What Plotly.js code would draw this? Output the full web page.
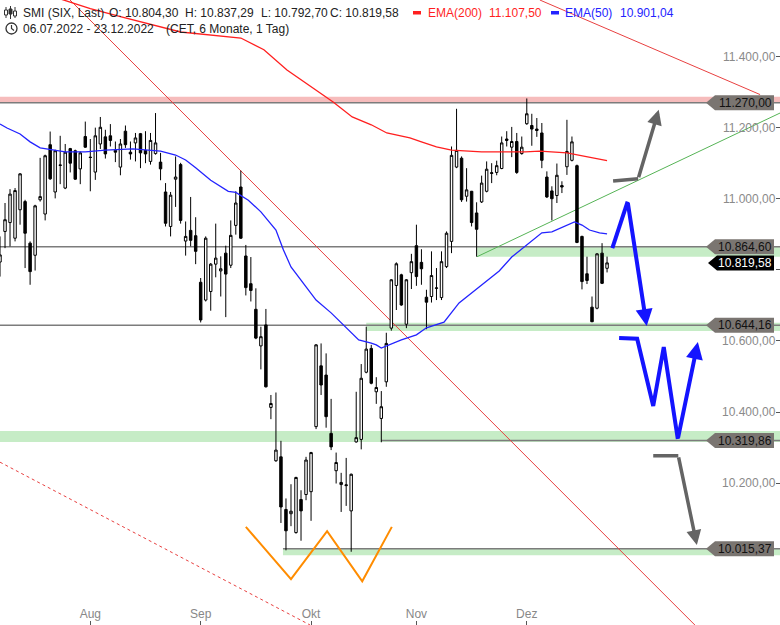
<!DOCTYPE html>
<html><head><meta charset="utf-8">
<script src="https://cdn.plot.ly/plotly-3.0.1.min.js"></script>
<style>html,body{margin:0;padding:0;background:#fff;}#chart{width:780px;height:625px;}</style>
</head><body><div id="chart"></div>
<script>
// ---- data (SMI daily, 06.07.2022 - 23.12.2022) ----
const openP = [10822,10908,10933,10889,10969,10992,10875,10841,10997,10957,11152,11019,11095,11030,11141,11135,11084,11175,11117,11075,
11154,11174,11177,11136,11089,11190,11131,11157,11183,11136,11105,11127,11103,11019,10922,11055,11096,10881,10911,10896,
10765,10715,10739,10816,10797,10847,10813,10925,11033,10839,10761,10689,10586,10645,10413,10263,10274,10126,10114,10061,
10154,10168,10176,10359,10530,10504,10340,10235,10196,10193,10122,10316,10323,10512,10579,10457,10382,10485,10636,10756,
10786,10647,10792,10868,10821,10723,10725,10748,10722,10809,10880,11089,11114,11007,11021,10960,10991,11021,11071,11074,
11085,11168,11145,11161,11127,11211,11206,11196,11185,11061,11022,11009,11037,11090,11108,11093,10894,10789,10695,10692,
10847,10804.30];
const highP = [10894,10988,11027,11030,11072,10997,10880,10983,11115,11124,11189,11138,11177,11154,11143,11138,11133,11217,11168,11200,
11230,11194,11210,11161,11168,11206,11161,11185,11185,11190,11185,11241,11129,11044,11019,11119,11101,10936,11005,10948,
10777,10894,10819,10930,10838,10868,10939,11021,11079,10870,10836,10748,10640,10690,10448,10455,10319,10157,10197,10218,
10180,10274,10288,10591,10593,10565,10437,10286,10229,10271,10227,10457,10535,10640,10589,10498,10459,10623,10774,10821,
10789,10774,10845,10927,10858,10744,10852,10805,10852,10908,11147,11253,11119,11086,11022,10990,11065,11105,11100,11107,
11175,11190,11202,11185,11175,11282,11239,11227,11213,11077,11035,11099,11049,11222,11175,11096,10896,10837,10725,10847,
10875,10837.29];
const lowP = [10781,10861,10866,10880,10927,10805,10758,10798,10992,10939,11053,11001,11041,11027,11074,11053,11041,11143,11021,11053,
11140,11113,11147,11103,11066,11143,11110,11105,11086,11100,11096,11124,11052,10922,10894,10977,10930,10840,10866,10816,
10652,10711,10685,10779,10725,10667,10805,10899,10887,10728,10711,10605,10520,10469,10380,10260,10088,10011,10079,10058,
10038,10152,10094,10352,10448,10356,10293,10199,10119,10136,10007,10314,10295,10509,10478,10423,10315,10471,10629,10687,
10699,10636,10746,10755,10758,10633,10708,10715,10715,10805,10847,11086,10991,10992,10922,10837,10988,11018,11044,11066,
11083,11147,11117,11070,11124,11208,11149,11174,11086,11002,10939,10988,11016,11067,11105,10875,10745,10760,10653,10689,
10760,10792.70];
const closeP = [10842,10941,11013,11023,11070,10903,10795,10980,11006,11121,11056,11135,11094,11131,11100,11055,11129,11145,11116,11177,
11201,11126,11164,11131,11154,11152,11126,11171,11129,11126,11164,11157,11084,10931,11010,11061,10939,10894,10883,10852,
10659,10889,10816,10833,10803,10788,10897,10988,10889,10750,10742,10608,10612,10471,10424,10293,10133,10066,10121,10216,
10122,10265,10286,10589,10476,10387,10302,10258,10202,10195,10225,10328,10495,10577,10481,10469,10415,10593,10772,10817,
10701,10772,10823,10781,10803,10709,10784,10749,10823,10903,11122,11136,10997,11025,10933,10914,11044,11083,11073,11093,
11157,11164,11161,11074,11145,11239,11196,11192,11108,11005,11000,11066,11033,11133,11160,10877,10767,10770,10654,10845,
10762,10819.58];
const monthTicks = [18, 40, 62, 83, 105];
const monthLabels = ['Aug', 'Sep', 'Okt', 'Nov', 'Dez'];
const priceTicks = [10200, 10400, 10600, 10800, 11000, 11200, 11400];
const priceLabels = ['10.200,00', '10.400,00', '10.600,00', '', '11.000,00', '11.200,00', '11.400,00']; // 10.800,00 sits under the last-price tag
const ema50X = [0,1.4,4,6,8,13,17,21,26.5,32,35,37,39,42,45.5,47,49.5,52,55,56.5,58,60,63,66,69,71.5,74,75,76,77.5,80,83,85,88.5,91.5,95.5,99.5,102,105,108,110,113,114.5,116,117.5,119.5,121];
const ema50Y = [11210,11199,11182,11160,11143,11132,11132,11137,11140,11134,11123,11109,11087,11052,11021,11018,10996,10963,10912,10856,10808,10772,10715,10679,10639,10603,10594,10589,10580,10589,10603,10617,10637,10653,10707,10752,10797,10836,10870,10904,10907,10926,10935,10926,10912,10904,10901.04];
const ema200X = [12,18,24,30,36,48,52.6,57.2,62.2,66.4,70.2,74,77.1,81.7,84,87,90,96,104.7,107.6,113,117,121];
const ema200Y = [11562,11535,11512,11490,11469,11452,11419,11362,11312,11272,11230,11208,11185,11171,11160,11146,11137,11132,11132,11134,11129,11118,11107.5];
const levels = [11270.00, 10864.60, 10644.16, 10319.86, 10015.37];
const levelStart = [0, 0, 0, 76, 56.4];
const lastPrice = closeP[closeP.length - 1];
// drawn annotations (index, price)
const orangeX = [49.0, 58.0, 65.2, 72.2, 78.1];
const orangeY = [10077, 9930, 10065, 9924, 10077];
const grayUpX = [122.2, 127.2, 131.3];
const grayUpY = [11050, 11056, 11250];
const grayDownX = [130.2, 135.2, 138.9];
const grayDownY = [10277, 10277, 10026];
const blue1X = [122.05, 125.1, 128.9];
const blue1Y = [10861, 10992, 10642];
const blue2X = [123.4, 127.0, 130.2, 132.3, 135.1, 139.1];
const blue2Y = [10608, 10606, 10417, 10583, 10324, 10597];

const XR = [0, 155.47], YR = [9801, 11559];
const FONT = 'Liberation Sans, Arial, sans-serif';
function de(v){ const p = v.toFixed(2).split('.'); return p[0].replace(/\B(?=(\d{3})+$)/g, '.') + ',' + p[1]; }
const idx = openP.map((_, i) => i);
const n = closeP.length - 1;

const traces = [
  {type:'scatter', mode:'lines', x:ema200X, y:ema200Y, line:{color:'#ff1f1f', width:1.3}, hoverinfo:'skip', showlegend:false},
  {type:'scatter', mode:'lines', x:ema50X, y:ema50Y, line:{color:'#2323ff', width:1.3}, hoverinfo:'skip', showlegend:false},
  {type:'candlestick', x:idx, open:openP, high:highP, low:lowP, close:closeP,
   increasing:{line:{color:'#000', width:1}, fillcolor:'#fff'},
   decreasing:{line:{color:'#000', width:1}, fillcolor:'#000'},
   whiskerwidth:0, hoverinfo:'skip', showlegend:false},
  {type:'scatter', mode:'lines', x:orangeX, y:orangeY, line:{color:'#ff8c00', width:2}, hoverinfo:'skip', showlegend:false},
  {type:'scatter', mode:'lines', x:grayUpX.slice(0,2), y:grayUpY.slice(0,2), line:{color:'#646464', width:3.5}, hoverinfo:'skip', showlegend:false},
  {type:'scatter', mode:'lines', x:grayDownX.slice(0,2), y:grayDownY.slice(0,2), line:{color:'#646464', width:3.5}, hoverinfo:'skip', showlegend:false},
  {type:'scatter', mode:'lines', x:blue1X.slice(0,2), y:blue1Y.slice(0,2), line:{color:'#1414ff', width:4}, hoverinfo:'skip', showlegend:false},
  {type:'scatter', mode:'lines', x:blue2X.slice(0,5), y:blue2Y.slice(0,5), line:{color:'#1414ff', width:4}, hoverinfo:'skip', showlegend:false}
];

const shapes = [];
// bands
shapes.push({type:'rect', layer:'below', xref:'x', yref:'y', x0:XR[0], x1:XR[1], y0:11270, y1:11287, fillcolor:'#f6bcbc', line:{width:0}});
shapes.push({type:'rect', layer:'below', xref:'x', yref:'y', x0:95.1, x1:XR[1], y0:10837, y1:10864.6, fillcolor:'#c6ecc6', line:{width:0}});
shapes.push({type:'rect', layer:'below', xref:'x', yref:'y', x0:73, x1:XR[1], y0:10628, y1:10651, fillcolor:'#c6ecc6', line:{width:0}});
shapes.push({type:'rect', layer:'below', xref:'x', yref:'y', x0:XR[0], x1:XR[1], y0:10316, y1:10347, fillcolor:'#c6ecc6', line:{width:0}});
shapes.push({type:'rect', layer:'below', xref:'x', yref:'y', x0:56.4, x1:XR[1], y0:9997, y1:10015.4, fillcolor:'#c6ecc6', line:{width:0}});
// level lines
levels.forEach((lv, k) => shapes.push({type:'line', layer:'below', xref:'x', yref:'y', x0:levelStart[k], x1:XR[1], y0:lv, y1:lv, line:{color:'#7c7c7c', width:1.5}}));
// trend lines
shapes.push({type:'line', layer:'below', xref:'x', yref:'y', x0:13.95, y0:YR[1], x1:138.5, y1:YR[0], line:{color:'#e84040', width:1}});
shapes.push({type:'line', layer:'below', xref:'x', yref:'y', x0:107.6, y0:YR[1], x1:151.5, y1:11293, line:{color:'#e84040', width:1}});
shapes.push({type:'line', layer:'below', xref:'x', yref:'y', x0:0, y0:10259, x1:61.8, y1:YR[0], line:{color:'#e84040', width:1, dash:'dot'}});
shapes.push({type:'line', layer:'below', xref:'x', yref:'y', x0:95.1, y0:10837, x1:XR[1], y1:11241, line:{color:'#56b456', width:1}});
// price tags
const tagPath = 'M-74,0L-65,7.5L-6,7.5L-6,-7.5L-65,-7.5Z';
levels.forEach(lv => shapes.push({type:'path', layer:'above', xref:'paper', xsizemode:'pixel', xanchor:1, yref:'y', ysizemode:'pixel', yanchor:lv, path:tagPath, fillcolor:'#7a7571', line:{width:0}}));
shapes.push({type:'path', layer:'above', xref:'paper', xsizemode:'pixel', xanchor:1, yref:'y', ysizemode:'pixel', yanchor:lastPrice, path:'M-72,0L-63,7.5L-6,7.5L-6,-7.5L-63,-7.5Z', fillcolor:'#000', line:{width:0}});
// header icons (pixels from top-left)
function tl(o){ return Object.assign({layer:'above', xref:'paper', xsizemode:'pixel', xanchor:0, yref:'paper', ysizemode:'pixel', yanchor:1}, o); }
shapes.push(tl({type:'line', x0:6, x1:6, y0:-7, y1:-18, line:{color:'#333', width:1}}));
shapes.push(tl({type:'rect', x0:4.5, x1:7.5, y0:-10, y1:-15, fillcolor:'#fff', line:{color:'#333', width:1}}));
shapes.push(tl({type:'line', x0:10.5, x1:10.5, y0:-6, y1:-19, line:{color:'#333', width:1}}));
shapes.push(tl({type:'rect', x0:9, x1:12, y0:-9, y1:-14, fillcolor:'#333', line:{color:'#333', width:1}}));
shapes.push(tl({type:'line', x0:15, x1:15, y0:-7, y1:-18, line:{color:'#333', width:1}}));
shapes.push(tl({type:'rect', x0:13.5, x1:16.5, y0:-11, y1:-16, fillcolor:'#fff', line:{color:'#333', width:1}}));
shapes.push(tl({type:'circle', x0:6, x1:17, y0:-23, y1:-34, line:{color:'#333', width:1.3}}));
shapes.push(tl({type:'path', path:'M11.5,-25L11.5,-28.5L14,-30.5', line:{color:'#333', width:1.2}}));
shapes.push(tl({type:'rect', x0:413, x1:421, y0:-11, y1:-14.5, fillcolor:'#ff1f1f', line:{width:0}}));
shapes.push(tl({type:'rect', x0:551, x1:559, y0:-11, y1:-14.5, fillcolor:'#2323ff', line:{width:0}}));

const ann = [];
function head(px, py, text, color){ ann.push({xref:'paper', yref:'paper', x:px/780, y:1-py/625, xanchor:'left', yanchor:'middle', text:text, showarrow:false, font:{family:FONT, size:12, color:color||'#222'}, borderpad:0}); }
head(22, 12.5, 'SMI (SIX, Last)');
head(108, 12.5, 'O: ' + de(openP[n]));
head(184, 12.5, 'H: ' + de(highP[n]));
head(260, 12.5, 'L: ' + de(lowP[n]));
head(329, 12.5, 'C: ' + de(closeP[n]));
head(427, 12.5, 'EMA(200)', '#ff1f1f');
head(488, 12.5, de(ema200Y[ema200Y.length-1]), '#ff1f1f');
head(564, 12.5, 'EMA(50)', '#2323ff');
head(619, 12.5, de(ema50Y[ema50Y.length-1]), '#2323ff');
head(22, 29, '06.07.2022 - 23.12.2022');
head(165, 29, '(CET, 6 Monate, 1 Tag)');
levels.forEach(lv => ann.push({xref:'paper', yref:'y', x:1, y:lv, xanchor:'right', yanchor:'middle', xshift:-7, text:de(lv), showarrow:false, font:{family:FONT, size:12, color:'#111'}, borderpad:0}));
ann.push({xref:'paper', yref:'y', x:1, y:lastPrice, xanchor:'right', yanchor:'middle', xshift:-7, text:de(lastPrice), showarrow:false, font:{family:FONT, size:12, color:'#fff'}, borderpad:0});
function arrow(xs, ys, color, w){ const k = xs.length-1; ann.push({xref:'x', yref:'y', axref:'x', ayref:'y', x:xs[k], y:ys[k], ax:xs[k-1], ay:ys[k-1], text:'', showarrow:true, arrowhead:2, arrowsize:0.85, arrowwidth:w, arrowcolor:color, standoff:0}); }
arrow(grayUpX, grayUpY, '#646464', 3.5);
arrow(grayDownX, grayDownY, '#646464', 3.5);
arrow(blue1X, blue1Y, '#1414ff', 4);
arrow(blue2X, blue2Y, '#1414ff', 4);

const layout = {
  width:780, height:625, margin:{l:0, r:0, t:0, b:0}, paper_bgcolor:'#fff', plot_bgcolor:'#fff',
  separators:',.', showlegend:false, font:{family:FONT},
  xaxis:{type:'linear', range:XR, tickvals:monthTicks, ticktext:monthLabels, ticks:'inside', ticklen:4, tickcolor:'#555',
         ticklabelposition:'inside', tickfont:{family:FONT, size:12, color:'#888'}, showgrid:false, zeroline:false, showline:false,
         rangeslider:{visible:false}, fixedrange:true},
  yaxis:{side:'right', range:YR, tickvals:priceTicks, ticktext:priceLabels, ticks:'inside', ticklen:4, tickcolor:'#555',
         ticklabelposition:'inside', tickfont:{family:FONT, size:12, color:'#8a8a8a'}, showgrid:false, zeroline:false, showline:false, fixedrange:true},
  shapes:shapes, annotations:ann
};
Plotly.newPlot('chart', traces, layout, {staticPlot:true, displayModeBar:false});
</script></body></html>
